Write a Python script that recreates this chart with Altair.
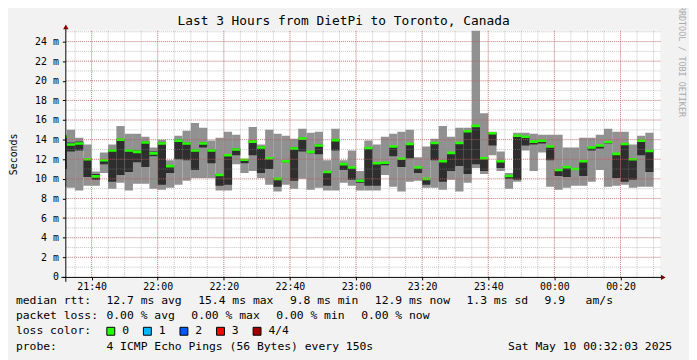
import altair as alt
import pandas as pd

# ---------------- data ----------------
first_bar_start = "2025-05-09 21:30:00"   # bars are 150 s steps
step_minutes = 2.5

rtt_max = [14.5, 15.0, 14.2, 13.5, 10.75, 12.7, 13.5, 15.4, 14.6, 14.6,
           14.3, 13.2, 14.0, 11.9, 14.4, 14.9, 15.7, 15.2, 13.9, 14.2,
           14.8, 14.5, 12.0, 15.3, 13.5, 15.0, 14.6, 14.4, 14.1, 15.1,
           14.7, 14.8, 11.9, 15.1, 11.9, 12.9, 10.8, 13.9, 13.5, 14.3,
           14.6, 14.8, 15.0, 12.2, 13.3, 14.1, 15.4, 14.3, 15.2, 15.2,
           25.2, 16.7, 14.8, 12.8, 10.6, 14.7, 14.7, 14.6, 14.5, 14.5,
           14.5, 13.2, 13.2, 14.2, 14.2, 14.5, 15.1, 14.8, 14.8, 13.5,
           14.4, 14.7]
rtt_hi = [14.4, 13.7, 13.8, 12.1, 10.5, 12.0, 13.0, 14.1, 13.0, 12.9,
          13.8, 12.8, 13.7, 11.4, 14.0, 13.7, 13.0, 13.7, 13.0, 10.5,
          12.5, 13.1, 12.0, 13.9, 13.3, 12.2, 10.1, 11.9, 13.2, 14.2,
          12.8, 13.5, 10.8, 14.0, 11.6, 11.2, 9.9, 13.2, 11.7, 11.7,
          13.35, 12.1, 13.6, 11.2, 10.05, 13.7, 11.85, 12.7, 13.7, 14.9,
          15.45, 12.15, 14.7, 11.85, 10.35, 14.45, 14.35, 13.85, 13.95, 13.35,
          10.95, 11.25, 11.05, 11.85, 13.25, 13.45, 13.8, 12.6, 13.6, 12.05,
          13.95, 12.9]
rtt_median = [14.3, 13.5, 13.6, 12.0, 10.25, 11.9, 12.9, 14.0, 12.9, 12.75,
              13.7, 12.6, 13.6, 11.3, 13.9, 13.6, 12.9, 13.6, 12.9, 10.4,
              12.4, 13.0, 11.95, 13.8, 13.2, 12.1, 10.0, 11.8, 13.1, 14.1,
              12.75, 13.4, 10.7, 13.95, 11.5, 11.15, 9.8, 13.15, 11.6, 11.65,
              13.3, 12.05, 13.55, 11.15, 10.0, 13.65, 11.8, 12.65, 13.65, 14.85,
              15.4, 12.1, 14.65, 11.8, 10.3, 14.4, 14.3, 13.8, 13.9, 13.3,
              10.9, 11.2, 11.0, 11.8, 13.2, 13.4, 13.75, 12.55, 13.55, 12.0,
              13.9, 12.85]
rtt_lo = [11.0, 12.8, 12.9, 10.2, 9.9, 11.5, 9.7, 10.4, 10.7, 11.7,
          11.2, 12.3, 9.4, 10.6, 12.0, 11.9, 10.9, 13.2, 11.6, 9.3,
          9.4, 12.4, 11.6, 12.4, 10.6, 11.0, 9.2, 11.7, 9.8, 12.8,
          12.6, 12.5, 9.3, 12.9, 10.9, 9.9, 9.6, 9.3, 9.3, 11.4,
          12.3, 11.2, 12.1, 10.6, 9.4, 11.9, 9.7, 10.8, 11.3, 10.5,
          11.5, 10.8, 13.4, 11.1, 10.0, 9.9, 13.4, 13.5, 13.6, 11.9,
          10.3, 10.2, 10.9, 10.3, 12.9, 13.1, 13.6, 10.1, 9.7, 9.9,
          12.4, 10.7]
rtt_min = [9.2, 9.1, 8.8, 9.3, 9.3, 10.6, 9.0, 9.6, 8.8, 9.5,
           9.5, 9.0, 8.9, 9.1, 9.4, 9.8, 10.1, 10.1, 10.1, 8.8,
           8.8, 11.5, 10.6, 10.8, 10.1, 9.4, 8.7, 9.4, 9.0, 10.0,
           8.9, 9.1, 8.8, 8.8, 9.6, 9.3, 8.8, 8.8, 8.8, 10.4,
           9.2, 8.7, 9.7, 9.8, 9.1, 9.1, 8.9, 9.9, 8.7, 9.6,
           11.1, 10.5, 12.4, 10.8, 9.0, 9.7, 12.9, 10.8, 12.7, 9.2,
           8.9, 9.1, 9.3, 9.3, 9.7, 10.9, 9.2, 9.3, 9.4, 9.1,
           9.2, 9.2]

y_labels = [0, 2, 4, 6, 8, 10, 12, 14, 16, 18, 20, 22, 24]
y_minor = list(range(1, 26))
x_major = ["2025-05-09 21:40", "2025-05-09 22:00", "2025-05-09 22:20",
           "2025-05-09 22:40", "2025-05-09 23:00", "2025-05-09 23:20",
           "2025-05-09 23:40", "2025-05-10 00:00", "2025-05-10 00:20"]
x_minor_start, x_minor_end = "2025-05-09 21:35", "2025-05-10 00:30"
view_start = "2025-05-09 21:32:03"
view_end = "2025-05-10 00:32:03"

title_text = "Last 3 Hours from DietPi to Toronto, Canada"
rtt_stats = ["12.7 ms avg", "15.4 ms max", "9.8 ms min", "12.9 ms now",
             "1.3 ms sd", "9.9", "am/s"]
loss_stats = ["0.00 % avg", "0.00 % max", "0.00 % min", "0.00 % now"]
loss_labels = ["0", "1", "2", "3", "4/4"]
loss_colors = ["#26ff00", "#00b8ff", "#0059ff", "#ff0000", "#a10000"]
probe_text = "4 ICMP Echo Pings (56 Bytes) every 150s"
date_text = "Sat May 10 00:32:03 2025"
watermark = "RRDTOOL / TOBI OETIKER"

# ---------------- tables ----------------
FMT = "%Y-%m-%dT%H:%M:%S"
starts = pd.date_range(first_bar_start, periods=len(rtt_max),
                       freq=pd.Timedelta(minutes=step_minutes))
bars = pd.DataFrame({
    "start": starts.strftime(FMT),
    "end": (starts + pd.Timedelta(minutes=step_minutes)).strftime(FMT),
    "max": rtt_max, "hi": rtt_hi, "med": rtt_median,
    "lo": rtt_lo, "min": rtt_min,
})
minor_t = pd.date_range(x_minor_start, x_minor_end, freq="5min").strftime(FMT)
major_t = pd.to_datetime(x_major)
grid_x_minor = pd.DataFrame({"t": list(minor_t)})
grid_x_major = pd.DataFrame({"t": list(major_t.strftime(FMT))})
grid_y_minor = pd.DataFrame({"v": y_minor})
grid_y_major = pd.DataFrame({"v": y_labels[1:]})


def dt(ts):
    ts = pd.Timestamp(ts)
    return alt.DateTime(year=ts.year, month=ts.month, date=ts.day,
                        hours=ts.hour, minutes=ts.minute, seconds=ts.second)


MONO = "DejaVu Sans Mono"
LIGHT = "#919191"
DARK = "#2e2e2e"
GREEN = "#26ff00"

xscale = alt.Scale(domain=[dt(view_start), dt(view_end)])
yscale = alt.Scale(domain=[0, 25.1], nice=False, zero=False)

x_axis = alt.Axis(values=[dt(t) for t in major_t], format="%H:%M",
                  labelFont=MONO, labelFontSize=10, labelColor="black",
                  tickSize=3, tickColor="black", labelPadding=2,
                  domain=False, grid=False, title=None, labelFlush=False)
y_axis = alt.Axis(values=y_labels,
                  labelExpr="datum.value == 0 ? '0' : datum.value + ' m'",
                  labelFont=MONO, labelFontSize=10, labelColor="black",
                  tickSize=3, tickColor="black", labelPadding=4,
                  domain=False, grid=False, title="Seconds",
                  titleFont=MONO, titleFontSize=10, titleFontWeight="normal",
                  titleColor="black", titleX=-52, titleY=124.5,
                  titleAngle=270, titleAlign="center", titleBaseline="middle")


def X(field):
    return alt.X(field, scale=xscale, axis=x_axis)


def Y(field):
    return alt.Y(field, scale=yscale, axis=y_axis)


base = alt.Chart(bars)
light = base.mark_rect(color=LIGHT, clip=True).encode(
    x=X("start:T"), x2="end:T", y=Y("min:Q"), y2="max:Q")
dark = base.mark_rect(color=DARK, clip=True).encode(
    x=X("start:T"), x2="end:T", y=Y("lo:Q"), y2="hi:Q")
median = base.mark_rule(color=GREEN, strokeWidth=2.6, clip=True).encode(
    x=X("start:T"), x2="end:T", y=Y("med:Q"))

gm = dict(strokeDash=[1, 1], strokeWidth=1)
gx_min = alt.Chart(grid_x_minor).mark_rule(color="#8c8c8c", opacity=0.5, **gm).encode(
    x=X("t:T"))
gy_min = alt.Chart(grid_y_minor).mark_rule(color="#8c8c8c", opacity=0.5, **gm).encode(
    y=Y("v:Q"))
gx_maj = alt.Chart(grid_x_major).mark_rule(color="#d84040", opacity=0.5, **gm).encode(
    x=X("t:T"))
gy_maj = alt.Chart(grid_y_major).mark_rule(color="#d84040", opacity=0.5, **gm).encode(
    y=Y("v:Q"))

one = pd.DataFrame({"a": [0]})


def txt(s, x, y, size=11.5, align="left", angle=0, color="black"):
    return alt.Chart(one).mark_text(
        text=s, align=align, baseline="middle", font=MONO, fontSize=size,
        color=color, angle=angle).encode(x=alt.value(x), y=alt.value(y))


deco = []
# axis lines and arrows
deco.append(alt.Chart(one).mark_rule(color="black", strokeWidth=1).encode(
    x=alt.value(-4), x2=alt.value(604), y=alt.value(249.5)))
deco.append(alt.Chart(one).mark_rule(color="black", strokeWidth=1).encode(
    x=alt.value(0.5), y=alt.value(-3), y2=alt.value(254)))
deco.append(alt.Chart(one).mark_point(shape="triangle-right", filled=True,
                                      color="#800000", opacity=1, size=30).encode(
    x=alt.value(605), y=alt.value(249.5)))
deco.append(alt.Chart(one).mark_point(shape="triangle-up", filled=True,
                                      color="#800000", opacity=1, size=30).encode(
    x=alt.value(0.5), y=alt.value(-4)))

# title and watermark
deco.append(txt(title_text, 281.5, -10, size=13, align="center"))
deco.append(txt(watermark, 624, 31, size=8.5, align="center", angle=90,
                color="#aaaaaa"))

# legend
L1, L2, L3, L4 = 273, 289, 304, 320
deco.append(txt("median rtt:", -50, L1))
for s, x in zip(rtt_stats, [41.6, 134.4, 227.2, 313.1, 405.9, 484.9, 526.4]):
    deco.append(txt(s, x, L1))
deco.append(txt("packet loss:", -50, L2))
for s, x in zip(loss_stats, [41.6, 127.5, 213.4, 299.3]):
    deco.append(txt(s, x, L2))
deco.append(txt("loss color:", -50, L3))
for i, (lab, col) in enumerate(zip(loss_labels, loss_colors)):
    x0 = 42 + 37 * i
    deco.append(alt.Chart(one).mark_rect(fill=col, stroke="black", strokeWidth=1).encode(
        x=alt.value(x0), x2=alt.value(x0 + 8), y=alt.value(L3 - 4), y2=alt.value(L3 + 4)))
    deco.append(txt(lab, x0 + 15.5, L3))
deco.append(txt("probe:", -50, L4))
deco.append(txt(probe_text, 41.6, L4))
deco.append(txt(date_text, 614, L4, align="right"))

chart = alt.layer(light, dark, median, gx_min, gy_min, gx_maj, gy_maj, *deco).properties(
    width=602, height=249,
    padding={"left": 58, "top": 21, "right": 29, "bottom": 82},
    autosize=alt.AutoSizeParams(type="none"),
    background="#f2f2f2",
).configure_view(fill="white", stroke=None)

chart.save("out.html", embed_options={"renderer": "svg", "actions": False})
